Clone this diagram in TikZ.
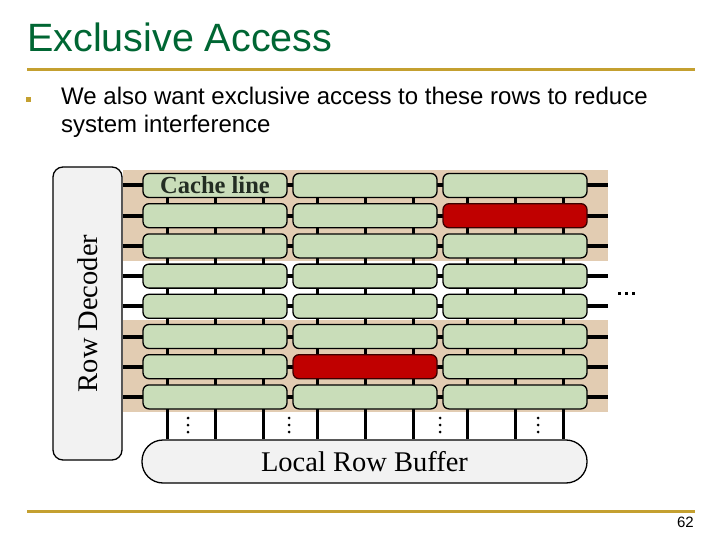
\documentclass[tikz,border=0pt]{standalone}
\usepackage{fontspec}
\setmainfont{Liberation Serif}
\setsansfont{Liberation Sans}
\usetikzlibrary{positioning,calc,backgrounds}
\definecolor{TitleGreen}{RGB}{0,102,51}
\definecolor{RuleGold}{RGB}{196,160,48}
\definecolor{CellGreen}{RGB}{201,221,185}
\definecolor{BandTan}{RGB}{226,204,178}
\definecolor{RowRed}{RGB}{192,0,0}
\definecolor{PanelGray}{RGB}{242,242,242}
\definecolor{DarkText}{RGB}{35,45,35}

\begin{document}
\begin{tikzpicture}[x=1pt, y=-1pt,
    cell/.style={rectangle, rounded corners=6pt, draw=black, line width=1.3pt, fill=CellGreen,
        minimum width=144pt, minimum height=24pt, inner sep=0pt},
    cell 2-3/.style={fill=RowRed, draw=black!70!RowRed},
    cell 7-2/.style={fill=RowRed, draw=black!70!RowRed},
    panel/.style={rectangle, rounded corners=10pt, draw=black, line width=1.3pt, fill=PanelGray,
        inner sep=0pt, font=\fontsize{28.5}{28.5}\selectfont},
    bodytext/.style={anchor=base west, inner sep=0pt, font=\sffamily\fontsize{24}{28}\selectfont},
    wline/.style={line width=4pt},
    bline/.style={line width=3pt},
    dot/.style={circle, fill=black, inner sep=0pt, minimum size=3pt},
    rule/.style={RuleGold, line width=3pt}
]
\useasboundingbox (0,0) rectangle (720,540);
% slide heading
\node[anchor=base west, inner sep=0pt, text=TitleGreen, font=\sffamily\fontsize{39.5}{39.5}\selectfont] (title) at (27,52) {Exclusive Access};
\draw[rule] (27,70) -- (695,70);
\node[fill=RuleGold, inner sep=0pt, minimum size=5pt] (bul) at (28,100) {};
\node[bodytext] (txt1) at (61,105) {We also want exclusive access to these rows to reduce};
\node[bodytext] (txt2) at (61,133) {system interference};
% array
\node[panel, rotate=90, minimum width=293pt, minimum height=69pt] (dec) at (87.5,313.5) {Row Decoder};
\node[panel, rounded corners=21pt, minimum width=445pt, minimum height=43pt] (buf) at (364.5,461.5) {Local Row Buffer};
\foreach \r in {1,...,8}
  \foreach \c in {1,2,3}
    \node[cell, cell \r-\c/.try] (c\r-\c) at ({65+150*\c},{185.5+30.2*(\r-1)}) {};
\node[text=DarkText, font=\bfseries\fontsize{24.5}{24.5}\selectfont] (cap) at (c1-1) {Cache line};
\coordinate (rim) at (608,0);
\begin{scope}[on background layer]
  \fill[BandTan] (123,170) rectangle (608,261);
  \fill[BandTan] (123,320) rectangle (608,412);
  \foreach \r in {1,...,8}
    \draw[wline] (dec.south |- c\r-1) -- (rim |- c\r-1);
  \foreach \c in {1,2,3}
    \foreach \dx in {-48,0,48}
      \draw[bline] ([xshift=\dx pt]c1-\c.center) -- ([xshift=\dx pt]c1-\c.center |- buf.north);
\end{scope}
% elided bitlines and wordlines
\foreach \x in {188,289,440,538}
  \foreach \y in {418,425,432}
    \node[dot] at (\x,\y) {};
\foreach \x in {619,626,633}
  \node[dot, rectangle] at (\x,293) {};
% footer
\draw[rule] (27,511) -- (695,511);
\node[anchor=base east, inner sep=0pt, font=\sffamily\fontsize{15}{15}\selectfont] (pg) at (694,527) {62};
\end{tikzpicture}
\end{document}
